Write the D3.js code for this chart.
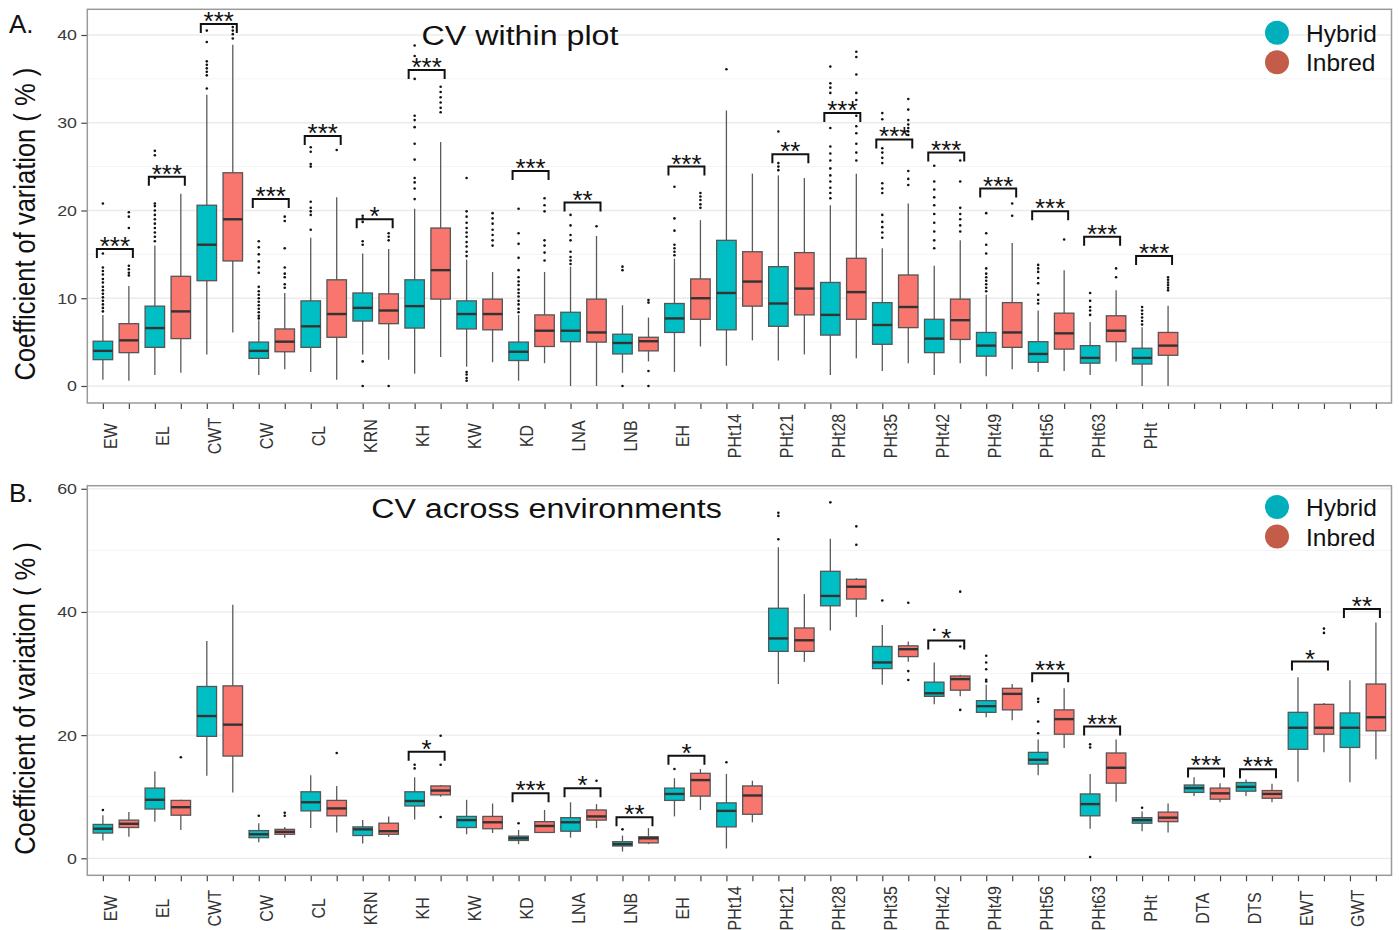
<!DOCTYPE html>
<html>
<head>
<meta charset="utf-8">
<script src="https://cdn.jsdelivr.net/npm/d3@7"></script>
<style>
  body { margin: 0; background: #fff; }
  text { font-family: Arial, "Liberation Sans", sans-serif; }
</style>
</head>
<body>
<div id="chart"></div>
<script>
// Traits on the x axis (each one has a Hybrid and an Inbred box)
var traits = ["EW", "EL", "CWT", "CW", "CL", "KRN", "KH", "KW", "KD", "LNA", "LNB", "EH",
  "PHt14", "PHt21", "PHt28", "PHt35", "PHt42", "PHt49", "PHt56", "PHt63", "PHt",
  "DTA", "DTS", "EWT", "GWT"];
var groups = ["Hybrid", "Inbred"];

// A. CV within plot: [lower whisker, q1, median, q3, upper whisker]
var withinHybrid = [
  [0.7, 3.0, 4.0, 5.1, 8.1], [1.25, 4.4, 6.6, 9.1, 16.0], [3.6, 12.0, 16.1, 20.6, 33.2],
  [1.25, 3.15, 4.0, 5.0, 7.5], [1.6, 4.4, 6.8, 9.7, 16.9], [3.6, 7.4, 8.9, 10.6, 15.1],
  [1.4, 6.6, 9.1, 12.1, 20.2], [2.2, 6.5, 8.2, 9.7, 14.4], [0.6, 2.9, 3.9, 5.0, 8.1],
  [0.0, 5.05, 6.3, 8.4, 13.6], [1.5, 3.65, 4.9, 5.9, 9.2], [1.6, 6.1, 7.7, 9.4, 14.5],
  [2.3, 6.4, 10.6, 16.6, 31.4], [2.9, 6.8, 9.4, 13.6, 24.0], [1.25, 5.8, 8.1, 11.8, 20.6],
  [1.7, 4.75, 6.95, 9.5, 15.7], [1.25, 3.8, 5.4, 7.6, 13.7], [1.1, 3.4, 4.6, 6.1, 10.4],
  [1.6, 2.7, 3.65, 5.05, 8.6], [1.25, 2.6, 3.2, 4.6, 7.3], [0.0, 2.5, 3.2, 4.3, 6.7]
];
var withinInbred = [
  [0.6, 3.8, 5.2, 7.1, 11.4], [1.5, 5.4, 8.5, 12.5, 21.9], [6.1, 14.25, 19.0, 24.3, 38.9],
  [1.9, 3.9, 5.05, 6.5, 10.6], [0.7, 5.55, 8.2, 12.1, 21.5], [3.0, 7.1, 8.6, 10.5, 15.6],
  [3.3, 9.9, 13.2, 18.0, 27.8], [2.7, 6.4, 8.2, 9.9, 13.0], [2.6, 4.5, 6.3, 8.1, 13.0],
  [0.0, 5.0, 6.1, 9.9, 17.1], [2.8, 4.0, 5.1, 5.55, 7.8], [4.5, 7.6, 10.0, 12.2, 18.9],
  [5.2, 9.1, 11.9, 15.3, 24.2], [3.6, 8.1, 11.1, 15.2, 23.7], [3.15, 7.6, 10.7, 14.55, 24.2],
  [2.6, 6.65, 9.0, 12.65, 20.8], [2.6, 5.3, 7.5, 9.9, 16.6], [1.9, 4.4, 6.1, 9.5, 16.3],
  [1.7, 4.2, 6.0, 8.3, 13.2], [2.8, 5.05, 6.3, 8.0, 10.9], [0.0, 3.5, 4.6, 6.1, 9.15]
];
var withinHybridOut = [
  [8.5, 8.9, 9.3, 9.7, 10.1, 10.5, 10.9, 11.3, 11.8, 12.2, 12.7, 13.1, 13.5, 15.1, 20.8],
  [16.5, 17.0, 17.5, 18.0, 18.5, 19.0, 19.5, 20.0, 20.5, 20.8, 23.7, 26.3, 26.8],
  [33.9, 35.4, 35.8, 36.2, 36.6, 37.0, 39.2, 40.5],
  [7.7, 8.0, 8.4, 8.8, 9.2, 9.6, 10.0, 10.4, 10.8, 11.3, 12.9, 13.5, 14.2, 15.0, 15.8, 16.5],
  [17.8, 19.5, 19.9, 20.3, 21.0, 25.0, 25.3, 26.7, 27.2],
  [0.0, 2.8, 16.1, 16.5, 18.7, 19.1, 19.4],
  [21.3, 22.5, 23.2, 23.7, 25.8, 27.6, 29.5, 30.3, 30.8, 35.0, 37.6, 38.8],
  [0.6, 0.9, 1.3, 1.6, 14.8, 15.3, 15.9, 16.4, 17.0, 17.5, 18.0, 18.6, 19.3, 19.9, 23.7],
  [8.4, 8.8, 9.3, 9.7, 10.2, 10.6, 11.0, 11.5, 11.9, 12.4, 13.2, 14.6, 16.2, 17.4, 20.2],
  [13.9, 14.3, 14.7, 15.3, 16.6, 17.2, 18.3, 19.5],
  [0.0, 13.2, 13.6],
  [14.9, 15.3, 15.7, 16.1, 17.7, 19.1, 22.7],
  [36.1],
  [24.6, 25.0, 25.4, 29.0],
  [21.4, 22.0, 22.6, 23.3, 24.0, 24.8, 25.7, 26.5, 27.3, 29.4, 33.4, 34.0, 34.5, 36.4],
  [16.9, 17.5, 18.1, 18.7, 19.5, 22.0, 22.5, 23.1, 25.4, 26.0, 26.6, 27.1, 30.4, 31.1],
  [15.7, 16.6, 17.6, 18.6, 19.6, 20.6, 21.5, 22.4, 23.3, 25.1],
  [10.8, 11.2, 11.6, 12.0, 12.4, 12.8, 13.4, 15.1, 16.1, 17.4, 19.7],
  [9.4, 9.8, 10.4, 11.7, 12.3, 13.0, 13.4, 13.8],
  [8.1, 8.6, 9.0, 9.7, 10.6],
  [7.0, 7.4, 7.8, 8.2, 8.6, 9.0]
];
var withinInbredOut = [
  [12.6, 12.9, 13.3, 13.7, 18.0, 19.3, 19.8], [], [39.6, 40.1, 40.5, 40.9],
  [11.2, 11.6, 12.4, 12.8, 13.5, 15.7, 18.8, 19.3], [26.9], [0.0, 16.6, 17.0, 17.4],
  [31.2, 31.7, 32.3, 32.9, 33.5, 34.1], [16.0, 16.6, 17.2, 17.8, 18.5, 19.1, 19.7],
  [14.3, 15.2, 16.0, 16.6, 19.9, 20.6, 21.4], [18.2], [0.0, 1.7, 9.5, 9.8],
  [20.3, 20.7, 21.2, 21.6, 22.0], [], [],
  [25.7, 26.6, 27.6, 28.8, 29.6, 30.8, 32.6, 33.4, 35.5, 37.5, 38.1],
  [22.9, 23.6, 24.5, 28.6, 29.0, 29.4, 29.8, 30.3, 31.5, 32.7],
  [17.6, 18.3, 19.0, 19.6, 20.3, 23.3, 25.7], [19.4, 20.8], [16.7], [12.4, 13.4],
  [10.9, 11.2, 11.5, 11.8, 12.1, 12.4]
];
// significance brackets: [trait, bracket height, label]
var withinSig = [
  ["EW", 15.6, "***"], ["EL", 23.85, "***"], ["CWT", 41.25, "***"], ["CW", 21.3, "***"],
  ["CL", 28.5, "***"], ["KRN", 19.0, "*"], ["KH", 36.0, "***"], ["KD", 24.5, "***"],
  ["LNA", 20.9, "**"], ["EH", 25.0, "***"], ["PHt21", 26.4, "**"], ["PHt28", 31.1, "***"],
  ["PHt35", 28.1, "***"], ["PHt42", 26.6, "***"], ["PHt49", 22.5, "***"], ["PHt56", 19.9, "***"],
  ["PHt63", 17.0, "***"], ["PHt", 14.8, "***"]
];

// B. CV across environments
var acrossHybrid = [
  [2.9, 4.1, 4.8, 5.5, 7.0], [5.95, 8.0, 9.5, 11.4, 14.1], [13.4, 19.8, 23.1, 27.9, 35.3],
  [2.6, 3.35, 3.9, 4.5, 5.7], [4.9, 7.7, 9.1, 10.8, 13.5], [2.4, 3.7, 4.7, 5.1, 6.2],
  [6.3, 8.5, 9.3, 10.8, 13.15], [3.9, 5.0, 6.2, 6.8, 9.5], [2.3, 2.9, 3.25, 3.6, 4.6],
  [3.35, 4.4, 5.85, 6.6, 9.1], [1.1, 2.0, 2.3, 2.7, 3.7], [6.8, 9.4, 10.45, 11.4, 13.0],
  [1.6, 5.1, 7.7, 9.0, 13.7], [28.3, 33.6, 35.7, 40.6, 50.5], [37.0, 41.0, 42.6, 46.6, 51.9],
  [28.2, 30.8, 31.8, 34.4, 37.9], [25.0, 26.3, 26.8, 28.6, 31.8], [22.9, 23.7, 24.7, 25.6, 28.2],
  [13.5, 15.3, 16.0, 17.2, 19.3], [4.8, 6.9, 8.8, 10.45, 13.7], [4.4, 5.7, 6.2, 6.6, 7.6],
  [10.1, 10.7, 11.4, 11.9, 13.15], [10.1, 10.9, 11.6, 12.3, 12.8], [12.45, 17.7, 21.2, 23.7, 29.4],
  [12.35, 18.0, 21.2, 23.6, 28.9]
];
var acrossInbred = [
  [3.5, 5.0, 5.6, 6.2, 7.5], [4.6, 7.0, 8.3, 9.4, 9.5], [10.7, 16.6, 21.7, 28.0, 41.15],
  [3.35, 3.9, 4.3, 4.7, 5.1], [4.2, 6.9, 8.1, 9.4, 11.75], [3.5, 3.9, 4.4, 5.7, 6.8],
  [10.0, 10.3, 11.0, 11.75, 11.9], [4.1, 4.8, 5.85, 6.8, 8.9], [4.1, 4.2, 5.25, 5.95, 7.85],
  [4.9, 6.2, 6.8, 7.85, 8.8], [2.3, 2.5, 3.25, 3.5, 4.9], [7.85, 10.1, 12.7, 13.8, 14.5],
  [5.85, 7.15, 10.2, 11.75, 12.6], [31.9, 33.6, 35.4, 37.4, 42.9], [39.2, 42.1, 44.1, 45.3, 45.5],
  [31.9, 32.75, 33.95, 34.5, 35.2], [26.3, 27.3, 29.1, 29.6, 29.8], [22.4, 24.1, 26.7, 27.6, 28.3],
  [17.9, 20.15, 22.6, 24.1, 27.6], [9.2, 12.2, 14.7, 17.1, 19.3], [4.2, 5.95, 6.6, 7.5, 8.9],
  [9.1, 9.6, 10.55, 11.4, 12.2], [9.1, 9.75, 10.45, 11.0, 12.1], [17.2, 20.15, 21.2, 25.0, 25.2],
  [16.1, 20.7, 22.9, 28.3, 38.3]
];
var acrossHybridOut = [
  [7.85], [], [], [6.9], [], [], [14.6, 15.2], [], [5.7], [], [4.7], [14.5], [15.6],
  [51.8, 55.6, 56.1], [57.8], [41.85], [37.1], [28.7, 29.0, 30.7, 31.8, 32.9],
  [20.3, 22.2, 25.4, 25.9], [0.2, 18.0, 18.5], [8.2], [], [], [], []
];
var acrossInbredOut = [
  [], [16.4], [], [6.9, 7.4], [17.1], [], [6.7, 15.2, 19.9], [], [], [12.6], [], [], [],
  [], [50.9, 53.9], [28.95, 30.4, 41.5], [24.1, 34.4, 43.3], [], [], [], [], [], [],
  [36.6, 37.3], []
];
var acrossSig = [
  ["KH", 17.3, "*"], ["KD", 10.56, "***"], ["LNA", 11.37, "*"], ["LNB", 6.66, "**"],
  ["EH", 16.67, "*"], ["PHt42", 35.36, "*"], ["PHt56", 30.06, "***"], ["PHt63", 21.39, "***"],
  ["DTA", 14.6, "***"], ["DTS", 14.46, "***"], ["EWT", 31.94, "*"], ["GWT", 40.46, "**"]
];

var boxColors = ["#00BFC4", "#F8766D"];
var legendColors = ["#00AFBB", "#C45C4A"];
var sx = 1.15; // the original figure is stretched horizontally

var svgWidth = 1399;
var svgHeight = 930;
var xLeft = 87.3;
var xRight = 1391.5;

var svg = d3.select("#chart")
  .append("svg")
  .attr("width", svgWidth)
  .attr("height", svgHeight)
  .style("display", "block");

var keys = [];
traits.forEach(function(t) {
  groups.forEach(function(g) { keys.push(t + "|" + g); });
});

var x = d3.scalePoint()
  .domain(keys)
  .range([xLeft, xRight])
  .padding(0.6);
var boxW = x.step() * 0.75;

function drawPanel(p) {
  var y = d3.scaleLinear().domain(p.yDomain).range([p.bottom, p.top]);
  var g = svg.append("g");

  // grid
  g.selectAll(".minor").data(p.minor).enter().append("line")
    .attr("x1", xLeft).attr("x2", xRight)
    .attr("y1", d => y(d)).attr("y2", d => y(d))
    .attr("stroke", "#f4f4f4").attr("stroke-width", 1);
  g.selectAll(".major").data(p.yTicks).enter().append("line")
    .attr("x1", xLeft).attr("x2", xRight)
    .attr("y1", d => y(d)).attr("y2", d => y(d))
    .attr("stroke", "#ebebeb").attr("stroke-width", 1.3);

  // y axis
  var yAx = g.append("g")
    .attr("transform", `translate(${xLeft},0)`)
    .call(d3.axisLeft(y).tickValues(p.yTicks).tickSize(6).tickPadding(3));
  yAx.select(".domain").remove();
  yAx.selectAll("line").attr("stroke", "#444").attr("stroke-width", 1.2);
  yAx.selectAll("text")
    .attr("font-size", "15.5px")
    .attr("font-family", "Arial, 'Liberation Sans', sans-serif")
    .attr("fill", "#3a3a3a")
    .attr("transform", `scale(${sx},1)`);

  // x axis
  var xAx = g.append("g")
    .attr("transform", `translate(0,${p.bottom})`)
    .call(d3.axisBottom(x).tickSize(6).tickFormat(function(d) {
      var parts = d.split("|");
      return (parts[1] === "Hybrid" && p.labeled.indexOf(parts[0]) >= 0) ? parts[0] : "";
    }));
  xAx.select(".domain").remove();
  xAx.selectAll("line").attr("stroke", "#444").attr("stroke-width", 1.2);
  xAx.selectAll("text")
    .attr("font-size", "16px")
    .attr("font-family", "Arial, 'Liberation Sans', sans-serif")
    .attr("fill", "#333")
    .attr("y", 0)
    .attr("dy", 12.2)
    .attr("text-anchor", "middle")
    .attr("transform", `translate(0,33) scale(${sx},1) rotate(-90)`);

  // boxes
  var rows = [];
  p.hybrid.forEach(function(s, i) {
    rows.push({ key: traits[i] + "|Hybrid", s: s, out: p.hybridOut[i], fill: boxColors[0] });
    rows.push({ key: traits[i] + "|Inbred", s: p.inbred[i], out: p.inbredOut[i], fill: boxColors[1] });
  });

  var boxes = g.selectAll(".box").data(rows).enter().append("g");
  boxes.append("line")
    .attr("x1", d => x(d.key)).attr("x2", d => x(d.key))
    .attr("y1", d => y(d.s[0])).attr("y2", d => y(d.s[4]))
    .attr("stroke", "#5a5a5a").attr("stroke-width", 1.3);
  boxes.append("rect")
    .attr("x", d => x(d.key) - boxW / 2)
    .attr("width", boxW)
    .attr("y", d => y(d.s[3]))
    .attr("height", d => y(d.s[1]) - y(d.s[3]))
    .attr("fill", d => d.fill)
    .attr("stroke", "#555").attr("stroke-width", 1.3);
  boxes.append("line")
    .attr("x1", d => x(d.key) - boxW / 2).attr("x2", d => x(d.key) + boxW / 2)
    .attr("y1", d => y(d.s[2])).attr("y2", d => y(d.s[2]))
    .attr("stroke", "#333").attr("stroke-width", 2.4);
  boxes.selectAll("circle").data(d => d.out.map(v => ({ key: d.key, v: v }))).enter()
    .append("circle")
    .attr("cx", d => x(d.key))
    .attr("cy", d => y(d.v))
    .attr("r", 1.3)
    .attr("fill", "#111");

  // significance brackets
  var sig = g.selectAll(".sig").data(p.sig).enter().append("g");
  sig.append("path")
    .attr("d", function(d) {
      var x1 = x(d[0] + "|Hybrid") - 6, x2 = x(d[0] + "|Inbred") + 4, yy = y(d[1]);
      return `M${x1},${yy + 9}V${yy}H${x2}V${yy + 9}`;
    })
    .attr("fill", "none").attr("stroke", "#111").attr("stroke-width", 2);
  sig.append("text")
    .attr("x", d => (x(d[0] + "|Hybrid") + x(d[0] + "|Inbred")) / 2 - 1)
    .attr("y", d => y(d[1]) + 6)
    .attr("text-anchor", "middle")
    .attr("font-size", "26px")
    .attr("fill", "#111")
    .text(d => d[2]);

  // panel border
  g.append("rect")
    .attr("x", xLeft).attr("y", p.top)
    .attr("width", xRight - xLeft).attr("height", p.bottom - p.top)
    .attr("fill", "none").attr("stroke", "#9a9a9a").attr("stroke-width", 1.5);

  // y title
  g.append("text")
    .attr("transform", `translate(35,${(p.top + p.bottom) / 2 + 18}) scale(${sx},1) rotate(-90)`)
    .attr("text-anchor", "middle")
    .attr("font-size", "25.5px")
    .attr("fill", "#111")
    .text("Coefficient of variation ( % )");

  // panel letter
  g.append("text")
    .attr("x", 9).attr("y", p.letterY)
    .attr("font-size", "26px")
    .attr("fill", "#111")
    .text(p.letter);

  // title
  g.append("text")
    .attr("transform", `translate(${p.titleX},${p.titleY}) scale(${sx},1)`)
    .attr("text-anchor", "middle")
    .attr("font-size", "28px")
    .attr("fill", "#111")
    .text(p.title);

  // legend
  var leg = g.selectAll(".leg").data(groups).enter().append("g")
    .attr("transform", (d, i) => `translate(1277,${p.legendY + i * 29.5})`);
  leg.append("circle").attr("r", 12).attr("fill", (d, i) => legendColors[i]);
  leg.append("text")
    .attr("x", 29).attr("y", 9)
    .attr("font-size", "24.5px")
    .attr("fill", "#111")
    .text(d => d);
}

drawPanel({
  top: 9.3, bottom: 403, yDomain: [-1.94, 42.93],
  yTicks: [0, 10, 20, 30, 40], minor: [5, 15, 25, 35],
  hybrid: withinHybrid, inbred: withinInbred,
  hybridOut: withinHybridOut, inbredOut: withinInbredOut,
  sig: withinSig, labeled: traits.slice(0, 21),
  letter: "A.", letterY: 33, title: "CV within plot", titleX: 520, titleY: 45,
  legendY: 32.7
});

drawPanel({
  top: 485.7, bottom: 875.3, yDomain: [-2.76, 60.5],
  yTicks: [0, 20, 40, 60], minor: [10, 30, 50],
  hybrid: acrossHybrid, inbred: acrossInbred,
  hybridOut: acrossHybridOut, inbredOut: acrossInbredOut,
  sig: acrossSig, labeled: traits,
  letter: "B.", letterY: 501.5, title: "CV across environments", titleX: 546.5, titleY: 518.3,
  legendY: 507
});
</script>
</body>
</html>
